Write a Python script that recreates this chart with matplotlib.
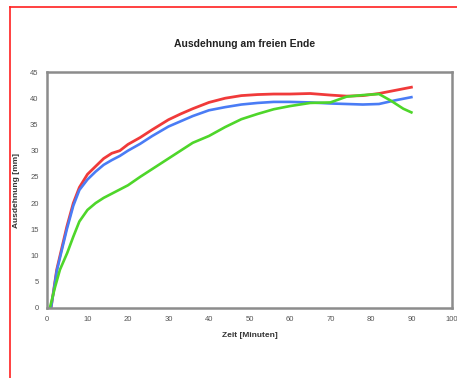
import matplotlib
matplotlib.use("Agg")
import matplotlib.pyplot as plt
from matplotlib.lines import Line2D

# Data (time in minutes, expansion in mm)
t_red = [1, 2.4, 4.9, 6.5, 8, 10, 12, 14, 16, 18, 20, 23, 26, 30, 33, 36, 40, 44, 48, 52, 56, 60, 65, 70, 74, 78, 82, 86, 90]
v_red = [0, 7.3, 15.5, 20, 23, 25.5, 27, 28.5, 29.5, 30, 31.2, 32.5, 34, 35.9, 37, 38, 39.2, 40, 40.5, 40.7, 40.8, 40.8, 40.9, 40.6, 40.4, 40.5, 40.9, 41.5, 42.1]

t_blue = [1, 2.4, 4.9, 6.5, 8, 10, 12, 14, 16, 18, 20, 23, 26, 30, 33, 36, 40, 44, 48, 52, 56, 60, 65, 70, 74, 78, 82, 86, 90]
v_blue = [0, 7.0, 15.0, 19.5, 22.5, 24.5, 26, 27.3, 28.2, 29, 30, 31.3, 32.8, 34.6, 35.6, 36.6, 37.7, 38.3, 38.8, 39.1, 39.3, 39.3, 39.2, 39.0, 38.9, 38.8, 38.9, 39.6, 40.2]

t_green = [0.7, 2, 3.2, 5, 6.5, 8, 10, 12, 14, 16, 18, 20, 23, 26, 30, 33, 36, 40, 44, 48, 52, 56, 60, 65, 70, 74, 78, 82, 85, 88, 90]
v_green = [0, 4.0, 7.3, 10.5, 13.6, 16.5, 18.7, 20, 21, 21.8, 22.6, 23.4, 25, 26.5, 28.5, 30, 31.5, 32.8, 34.5, 36, 37, 37.9, 38.5, 39.1, 39.2, 40.3, 40.6, 40.8, 39.5, 38, 37.3]

title = "Ausdehnung am freien Ende"
xlabel = "Zeit [Minuten]"
ylabel = "Ausdehnung [mm]"
xticks = list(range(0, 101, 10))
yticks = list(range(0, 46, 5))

plt.rcParams['font.family'] = ['Liberation Sans', 'DejaVu Sans']

fig = plt.figure(figsize=(4.57, 3.78), dpi=100)
ax = fig.add_axes([0.1028, 0.1852, 0.886, 0.6243])

ax.plot(t_red, v_red, color='#f03a3a', lw=2.0)
ax.plot(t_blue, v_blue, color='#4a7cf5', lw=1.9)
ax.plot(t_green, v_green, color='#4ed62a', lw=1.9)

ax.set_xlim(0, 100)
ax.set_ylim(0, 45)
ax.set_xticks(xticks)
ax.set_yticks(yticks)
ax.tick_params(length=0, labelsize=5.5, labelcolor='#555555', pad=6)
for s in ax.spines.values():
    s.set_color('#8c8c8c')
    s.set_linewidth(1.8)

ax.set_xlabel(xlabel, fontsize=6, fontweight='bold', color='#333333', labelpad=6)
ax.set_ylabel(ylabel, fontsize=6, fontweight='bold', color='#333333')
ax.yaxis.set_label_coords(-0.067, 0.5)
fig.text(245/457, 1 - 44/378, title, ha='center', va='center', fontsize=7.5, fontweight='bold', color='#222222')

# red frame
fig.add_artist(Line2D([10/457, 10/457], [0, 1 - 7/378], transform=fig.transFigure, color='#ff2020', lw=1.2))
fig.add_artist(Line2D([10/457, 1], [1 - 7/378, 1 - 7/378], transform=fig.transFigure, color='#ff2020', lw=1.2))

fig.savefig('out.png', dpi=100)
